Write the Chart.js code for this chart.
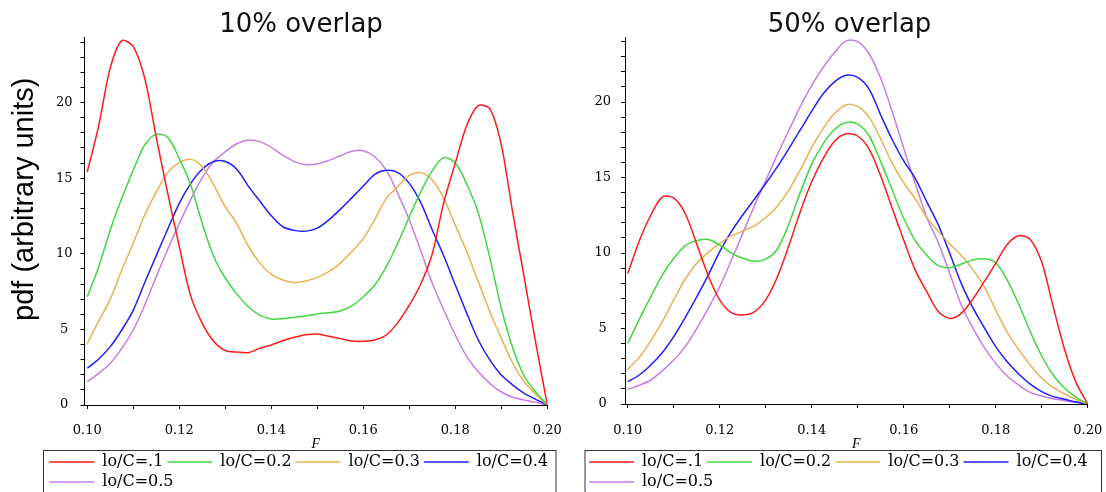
<!DOCTYPE html>
<html><head><meta charset="utf-8">
<script src="https://cdn.jsdelivr.net/npm/chart.js@4.4.1/dist/chart.umd.min.js"></script>
<style>
html,body{margin:0;padding:0;background:#fff;overflow:hidden;width:1106px;height:492px;position:relative;}
#c1{position:absolute;left:0;top:0;}
#c2{position:absolute;left:550px;top:0;}
</style></head><body>
<canvas id="c1" width="575" height="492"></canvas>
<canvas id="c2" width="570" height="492"></canvas>
<script>
// ---- data ----
const F = [0.1, 0.1025, 0.105, 0.1075, 0.11, 0.1125, 0.115, 0.1175, 0.12, 0.1225, 0.125, 0.1275, 0.13, 0.1325, 0.135, 0.1375, 0.14, 0.1425, 0.145, 0.1475, 0.15, 0.1525, 0.155, 0.1575, 0.16, 0.1625, 0.165, 0.1675, 0.17, 0.1725, 0.175, 0.1775, 0.18, 0.1825, 0.185, 0.1875, 0.19, 0.1925, 0.195, 0.1975, 0.2];
const seriesLabels = ['lo/C=.1', 'lo/C=0.2', 'lo/C=0.3', 'lo/C=0.4', 'lo/C=0.5'];
const panelTitles = ['10% overlap', '50% overlap'];
const yAxisTitle = 'pdf (arbitrary units)';
const xAxisTitle = 'F';
const yMajorTicks = [0, 5, 10, 15, 20];
const xTickLabels = ['0.10', '0.12', '0.14', '0.16', '0.18', '0.20'];

// 10% overlap
const left_r = [15.4, 18.5, 22.3, 24.1, 23.7, 21.6, 17.7, 14.0, 10.5, 7.2, 5.4, 4.2, 3.6, 3.5, 3.46, 3.75, 3.97, 4.25, 4.48, 4.65, 4.7, 4.55, 4.39, 4.23, 4.21, 4.3, 4.63, 5.45, 6.6, 8.0, 10.0, 13.4, 16.0, 18.5, 19.8, 19.6, 17.2, 12.7, 8.4, 4.1, 0];
const left_g = [7.16, 9.15, 11.57, 13.67, 15.54, 17.2, 17.9, 17.7, 16.3, 14.55, 12.0, 9.8, 8.4, 7.35, 6.5, 5.95, 5.69, 5.71, 5.8, 5.89, 6.02, 6.1, 6.22, 6.55, 7.16, 7.94, 9.15, 10.7, 12.45, 14.1, 15.5, 16.36, 16.0, 14.6, 12.7, 9.75, 6.4, 3.77, 1.9, 0.85, 0];
const left_o = [4.08, 5.56, 7.0, 8.93, 10.7, 12.57, 14.1, 15.37, 16.03, 16.25, 15.76, 14.55, 13.1, 12.0, 10.5, 9.4, 8.64, 8.27, 8.11, 8.2, 8.44, 8.82, 9.37, 10.14, 11.0, 12.28, 13.67, 14.44, 15.19, 15.37, 14.88, 13.67, 11.9, 10.14, 8.16, 6.17, 4.41, 2.76, 1.54, 0.7, 0];
const left_b = [2.43, 3.04, 3.86, 4.96, 6.28, 8.1, 9.88, 11.64, 13.34, 14.66, 15.59, 16.1, 16.1, 15.59, 14.48, 13.49, 12.52, 11.79, 11.55, 11.5, 11.7, 12.24, 12.94, 13.7, 14.48, 15.26, 15.52, 15.37, 14.66, 13.38, 11.57, 9.85, 7.94, 6.06, 4.3, 2.98, 1.98, 1.32, 0.77, 0.37, 0];
const left_p = [1.54, 2.09, 2.76, 3.75, 4.96, 6.61, 8.49, 10.3, 12.0, 13.6, 15.04, 16.1, 16.75, 17.28, 17.53, 17.42, 17.04, 16.53, 16.1, 15.9, 15.94, 16.18, 16.49, 16.78, 16.82, 16.42, 15.54, 14.0, 12.24, 10.2, 8.05, 6.28, 4.63, 3.2, 2.2, 1.43, 0.86, 0.51, 0.33, 0.18, 0];

// 50% overlap
const right_r = [8.65, 10.8, 12.5, 13.7, 13.65, 12.6, 10.6, 8.5, 6.9, 6.05, 5.9, 6.1, 6.9, 8.4, 10.46, 12.74, 14.72, 16.27, 17.42, 17.9, 17.75, 16.87, 15.1, 12.96, 10.86, 8.87, 7.44, 6.13, 5.67, 6.0, 6.93, 8.1, 9.32, 10.57, 11.15, 10.9, 9.4, 6.45, 3.58, 1.4, 0];
const right_g = [4.02, 5.6, 7.1, 8.54, 9.65, 10.49, 10.82, 10.9, 10.53, 10.0, 9.65, 9.45, 9.6, 10.25, 11.9, 14.0, 15.9, 17.25, 18.2, 18.65, 18.54, 17.75, 16.05, 14.17, 12.3, 10.82, 9.87, 9.16, 9.03, 9.27, 9.54, 9.62, 9.36, 8.21, 6.62, 4.79, 3.18, 1.92, 1.04, 0.44, 0];
const right_o = [2.3, 3.07, 4.19, 5.45, 6.89, 8.28, 9.32, 10.04, 10.64, 11.13, 11.46, 11.8, 12.35, 13.1, 14.15, 15.5, 17.0, 18.26, 19.25, 19.82, 19.71, 18.98, 17.55, 15.94, 14.66, 13.58, 12.36, 11.45, 10.6, 9.85, 8.92, 7.77, 6.23, 4.75, 3.62, 2.58, 1.7, 1.1, 0.66, 0.31, 0];
const right_b = [1.48, 1.92, 2.58, 3.4, 4.46, 5.74, 7.1, 8.54, 10.09, 11.41, 12.52, 13.55, 14.6, 15.7, 16.9, 18.15, 19.4, 20.55, 21.35, 21.77, 21.63, 20.84, 19.14, 17.5, 16.1, 14.95, 13.4, 11.88, 9.98, 7.99, 6.4, 5.06, 3.8, 2.8, 1.99, 1.32, 0.82, 0.49, 0.31, 0.13, 0];
const right_p = [0.97, 1.24, 1.59, 2.19, 2.91, 3.8, 5.0, 6.34, 7.77, 9.5, 11.3, 13.1, 14.8, 16.5, 18.1, 19.7, 21.1, 22.3, 23.3, 24.05, 24.0, 23.18, 21.57, 19.36, 16.93, 14.61, 12.36, 10.7, 8.65, 6.56, 5.06, 3.75, 2.69, 1.85, 1.26, 0.77, 0.53, 0.35, 0.22, 0.11, 0];

const colors = ['#ff1a1a', '#3fd83f', '#e6b352', '#1f1fff', '#c77de3'];

const legendFrame = {
  id: 'legendFrame',
  afterDraw(chart, args, opts) {
    const lg = chart.legend; const ctx = chart.ctx;
    ctx.save();
    ctx.strokeStyle = opts.color || '#333';
    ctx.lineWidth = 1;
    ctx.strokeRect(opts.left, lg.top + 0.5, opts.right - opts.left, 80);
    ctx.restore();
  }
};

// shifts the y-axis title along the axis (the reference title sits above the axis centre)
const yTitleShift = {
  id: 'yTitleShift',
  afterLayout(chart, args, opts) {
    const s = chart.scales.y;
    if (!s || s._shiftWrapped) return;
    const orig = s.drawTitle.bind(s);
    s.drawTitle = function () {
      this.ctx.save();
      this.ctx.translate(0, opts.dy || 0);
      orig();
      this.ctx.restore();
    };
    s._shiftWrapped = true;
  }
};

function makeChart(id, title, series, p) {
  const datasets = series.map((arr, i) => ({
    label: seriesLabels[i],
    data: F.map((x, k) => ({x: x, y: arr[k]})),
    borderColor: colors[i],
    backgroundColor: colors[i],
    borderWidth: 1.5,
    pointRadius: 0,
    pointStyle: 'line',
    tension: 0.3,
    fill: false
  }));
  return new Chart(document.getElementById(id), {
    type: 'line',
    data: { datasets },
    plugins: [legendFrame, yTitleShift],
    options: {
      responsive: false,
      animation: false,
      events: [],
      devicePixelRatio: 1,
      layout: { padding: { left: p.padL, right: p.padR, top: 0, bottom: 0 } },
      plugins: {
        tooltip: { enabled: false },
        title: {
          display: true, text: title, color: '#111',
          font: { family: 'DejaVu Sans', size: 26, weight: 'normal' },
          padding: { top: 10, bottom: p.titlePadB }
        },
        legend: {
          display: true, position: 'bottom', align: 'start', maxHeight: 42,
          labels: {
            usePointStyle: true, pointStyleWidth: 45, padding: 4, color: '#000',
            font: { family: 'DejaVu Serif', size: 16 }
          }
        },
        legendFrame: { left: p.frameL, right: p.frameR, color: '#333' },
        yTitleShift: { dy: -22 }
      },
      scales: {
        x: {
          type: 'linear', min: 0.0994, max: 0.2,
          grid: { drawOnChartArea: false, drawTicks: true, tickLength: 4, color: '#000', tickColor: '#000' },
          border: { color: '#000', width: 1 },
          ticks: {
            stepSize: 0.01, autoSkip: false, maxRotation: 0, includeBounds: false, padding: p.tickPadX,
            color: '#000', font: { family: 'DejaVu Serif', size: 13 },
            callback: (v) => { const s = Number(v).toFixed(2); return xTickLabels.includes(s) ? s : ''; }
          },
          title: {
            display: true, text: xAxisTitle, color: '#000',
            font: { family: 'Liberation Serif', size: 14, style: 'italic' },
            padding: { top: 0, bottom: -3.1 }
          },
          afterFit: (s) => { s.height = p.xHeight; s.paddingLeft = 0; s.paddingRight = p.xPadR; }
        },
        y: {
          type: 'linear', min: 0, max: 24.3,
          grid: { drawOnChartArea: false, drawTicks: true, tickLength: 4, color: '#000', tickColor: '#000' },
          border: { color: '#000', width: 1 },
          ticks: {
            stepSize: 1, autoSkip: false, includeBounds: false, maxTicksLimit: 100,
            crossAlign: 'center', padding: p.tickPadY,
            color: '#000', font: { family: 'DejaVu Serif', size: 13 },
            callback: (v) => yMajorTicks.includes(v) ? String(v) : ''
          },
          title: {
            display: p.showYTitle, text: yAxisTitle, color: '#000',
            font: { family: 'Liberation Sans', size: 29, weight: 'normal' },
            padding: { top: -37.9, bottom: 0 }
          },
          afterFit: (s) => { s.width = p.yWidth; s.paddingTop = 0; s.paddingBottom = 0; }
        }
      }
    }
  });
}

// left canvas: page x 0..575 ; right canvas: page x 550..1120
makeChart('c1', panelTitles[0], [left_r, left_g, left_o, left_b, left_p], {
  padL: 45.3, padR: 18.3, yWidth: 39.2, xHeight: 45, xPadR: 27.7, titlePadB: -3.6,
  tickPadX: 13.5, tickPadY: 8, frameL: 43.5, frameR: 556, showYTitle: true
});
makeChart('c2', panelTitles[1], [right_r, right_g, right_o, right_b, right_p], {
  padL: 35, padR: 6, yWidth: 40, xHeight: 46, xPadR: 32.3, titlePadB: -4.1,
  tickPadX: 14.5, tickPadY: 10, frameL: 35, frameR: 551.5, showYTitle: false
});
</script>
</body></html>
